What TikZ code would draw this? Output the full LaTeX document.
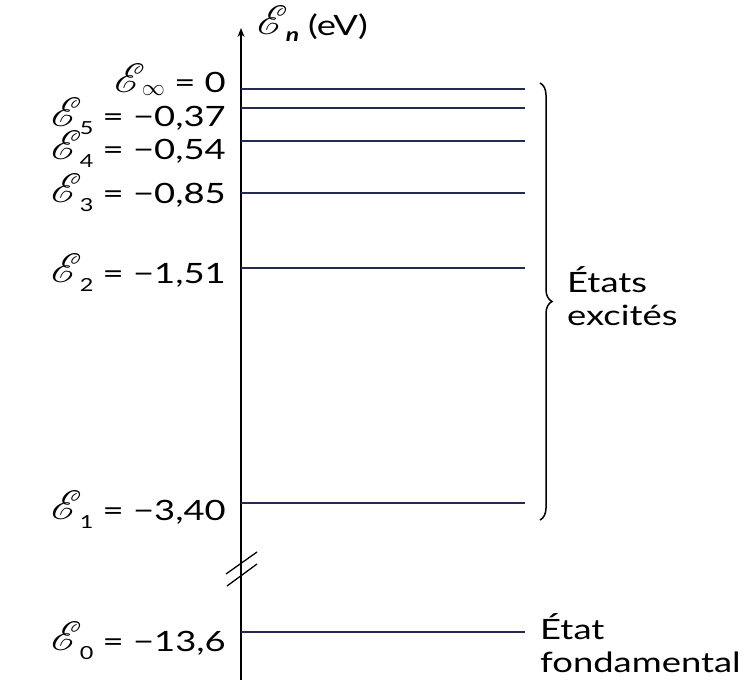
\documentclass[tikz,border=0pt]{standalone}
\usepackage{graphicx}
\usepackage{fontspec}
\setmainfont{Lato}[FakeStretch=1.3]
\usepackage{mathrsfs}
\usetikzlibrary{decorations.pathreplacing,arrows.meta}
\definecolor{levelcol}{RGB}{40,40,85}
\newcommand{\Escr}{\raisebox{1pt}{\fontsize{10}{10}\selectfont\scalebox{4.1}{$\mathscr{E}$}}}
\newcommand{\sscr}[1]{\smash{\raisebox{-8pt}{\fontsize{18}{18}\selectfont #1}}}
\newcommand{\En}[1]{\Escr\kern-2pt\sscr{#1}}
\tikzset{
  level/.style={draw=levelcol, line width=2.2pt},
  lab/.style={anchor=base east, inner sep=0pt, font=\fontsize{28}{30}\selectfont},
  side/.style={anchor=base west, inner sep=0pt, align=left, font=\fontsize{28}{33}\selectfont},
}
\begin{document}
\begin{tikzpicture}[x=1pt,y=-1pt]
\useasboundingbox (0,0) rectangle (755,682);
% axis
\coordinate (axb) at (241,680);
\coordinate (axt) at (241,28);
\draw[line width=1.4pt, -{Stealth[length=9pt,width=7pt]}] (axb) -- (axt);
\coordinate (s1a) at (226,574); \coordinate (s1b) at (257,552);
\coordinate (s2a) at (227,586); \coordinate (s2b) at (257,564);
\draw[line width=1.3pt] (s1a) -- (s1b);
\draw[line width=1.3pt] (s2a) -- (s2b);
\node[lab, anchor=base west] (axlab) at (257,36) {\Escr\kern-2pt\raisebox{-6pt}{\fontsize{19}{19}\selectfont\bfseries\itshape n}\hspace{9pt}(eV)};
% levels
\foreach \nm/\yy in {inf/89, l5/108, l4/141, l3/193, l2/268, l1/503, l0/632} {
  \coordinate (\nm a) at (241,\yy);
  \coordinate (\nm b) at (525,\yy);
  \draw[level] (\nm a) -- (\nm b);
}
\node[lab] (tinf) at (226,93) {\Escr\kern-3pt\raisebox{-2pt}{\fontsize{10}{10}\selectfont\scalebox{2.3}{$\infty$}} = 0};
\node[lab] (t5) at (226,127) {\En{5} = −0,37};
\node[lab] (t4) at (226,160) {\En{4} = −0,54};
\node[lab] (t3) at (226,203) {\En{3} = −0,85};
\node[lab] (t2) at (226,283) {\En{2} = −1,51};
\node[lab] (t1) at (226,520) {\En{1} = −3,40};
\node[lab] (t0) at (226,651) {\En{0} = −13,6};
% brace
\coordinate (bt) at (540,83);
\coordinate (bb) at (540,520);
\draw[line width=1.5pt, decorate, decoration={brace, amplitude=12pt}] (bt) -- (bb);
\node[side] (exc) at (567,325) {États\\excités};
\node[side] (fond) at (540,672) {État\\fondamental};
\end{tikzpicture}
\end{document}
